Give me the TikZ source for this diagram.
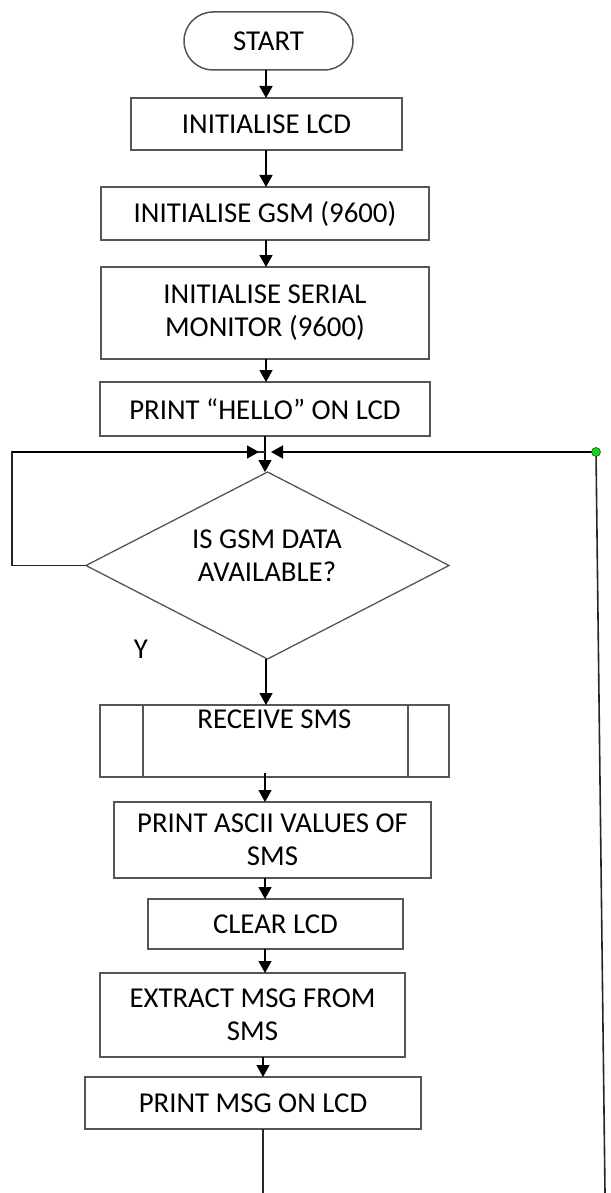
\documentclass[tikz,border=0pt]{standalone}
\usepackage{fontspec}
\setmainfont{Carlito}
\usetikzlibrary{arrows.meta,shapes.geometric}
\definecolor{boxgray}{HTML}{555555}
\definecolor{dotgreen}{HTML}{22CC22}
\newcommand\flowfont{\fontsize{28.8}{33}\selectfont}
\begin{document}
\begin{tikzpicture}[x=1pt,y=-1pt,
  box/.style={draw=boxgray, line width=1.5pt, rectangle, inner sep=0pt, outer sep=0pt, align=center, font=\flowfont},
  term/.style={box, rounded corners=29pt},
  decision/.style={draw=boxgray, line width=1.3pt, diamond, inner sep=0pt, outer sep=0pt},
  txt/.style={inner sep=0pt, outer sep=0pt, align=center, font=\flowfont},
  arr/.style={draw=black, line width=1.6pt, -{Triangle[width=13pt,length=12pt]}},
  wire/.style={draw=black!85, line width=1.6pt},
]
\useasboundingbox (0,0) rectangle (610,1193);
\coordinate (axis) at (265,0);

\node[term, minimum width=169pt, minimum height=58pt] (start) at (268.5,41) {START};
\node[box, minimum width=271pt, minimum height=52pt] (lcd) at (266.5,124) {INITIALISE LCD};
\node[box, minimum width=328pt, minimum height=53pt] (gsm) at (265,213.5) {INITIALISE GSM (9600)};
\node[box, minimum width=328pt, minimum height=92pt] (serial) at (265,313) {INITIALISE SERIAL\\MONITOR (9600)};
\node[box, minimum width=330pt, minimum height=54pt] (hello) at (265,409) {PRINT “HELLO” ON LCD};

\node[decision, minimum width=363pt, minimum height=187pt] (dec) at (267.5,565.5) {};
\node[txt] (dectext) at (267,556) {IS GSM DATA\\AVAILABLE?};
\node[txt] (ylab) at (141,649) {Y};

\node[box, minimum width=349pt, minimum height=72pt] (recv) at (274.5,741) {RECEIVE SMS\\\strut};
\draw[draw=boxgray, line width=1.5pt] (recv.north west -| 143,0) -- (recv.south west -| 143,0);
\draw[draw=boxgray, line width=1.5pt] (recv.north west -| 408,0) -- (recv.south west -| 408,0);
\node[box, minimum width=317pt, minimum height=76pt] (ascii) at (272.5,840) {PRINT ASCII VALUES OF\\SMS};
\node[box, minimum width=255pt, minimum height=50pt] (clear) at (275.5,924) {CLEAR LCD};
\node[box, minimum width=305pt, minimum height=84pt] (extract) at (252.5,1015) {EXTRACT MSG FROM\\SMS};
\node[box, minimum width=336pt, minimum height=52pt] (msg) at (253,1103) {PRINT MSG ON LCD};

\coordinate (join) at (265,452);
\coordinate (leftcorner) at (12,452);
\coordinate (leftbottom) at (12,565.5);
\coordinate (rightcorner) at (596,452);
\coordinate (rightend) at (605,1193);
\coordinate (bottomend) at (263,1193);

% main chain
\draw[arr] (start.south -| 266,0) -- (lcd.north -| 266,0);
\draw[arr] (lcd.south -| 266,0) -- (gsm.north -| 266,0);
\draw[arr] (gsm.south -| 266,0) -- (serial.north -| 266,0);
\draw[arr] (serial.south -| 266,0) -- (hello.north -| 266,0);
\draw[arr] (hello.south -| axis) -- (dec.north -| axis);

% loops into the junction
\draw[wire] (dec.west) -- (leftbottom) -- (leftcorner) -- (join);
\draw[arr] (leftcorner) -- ([xshift=-6pt]join);
\draw[wire] (rightend) -- (rightcorner);
\draw[arr] (rightcorner) -- ([xshift=6pt]join);
\node[circle, fill=dotgreen, draw=green!40!black, line width=0.6pt, inner sep=0pt, minimum size=9pt] (dot) at (rightcorner) {};

% lower chain
\draw[arr] (dec.south -| 266,0) -- (recv.north -| 266,0);
\draw[arr] ([yshift=4pt]recv.south -| axis) -- (ascii.north -| axis);
\draw[arr] (ascii.south -| axis) -- (clear.north -| axis);
\draw[arr] (clear.south -| axis) -- (extract.north -| axis);
\draw[arr] (extract.south -| 263,0) -- (msg.north -| 263,0);
\draw[wire] (msg.south -| bottomend) -- (bottomend);
\end{tikzpicture}
\end{document}
